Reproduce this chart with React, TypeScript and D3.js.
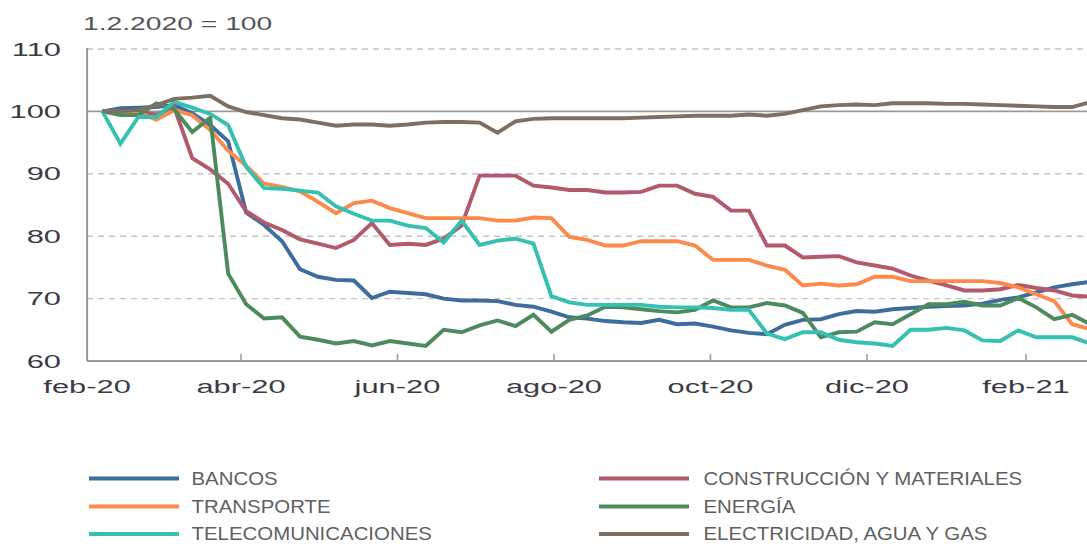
import React from "react";
import * as d3 from "d3";

const dates = [
  "2020-02-07","2020-02-14","2020-02-21","2020-02-28","2020-03-06","2020-03-13","2020-03-20","2020-03-27",
  "2020-04-03","2020-04-10","2020-04-17","2020-04-24","2020-05-01","2020-05-08","2020-05-15","2020-05-22",
  "2020-05-29","2020-06-05","2020-06-12","2020-06-19","2020-06-26","2020-07-03","2020-07-10","2020-07-17",
  "2020-07-24","2020-07-31","2020-08-07","2020-08-14","2020-08-21","2020-08-28","2020-09-04","2020-09-11",
  "2020-09-18","2020-09-25","2020-10-02","2020-10-09","2020-10-16","2020-10-23","2020-10-30","2020-11-06",
  "2020-11-13","2020-11-20","2020-11-27","2020-12-04","2020-12-11","2020-12-18","2020-12-25","2021-01-01",
  "2021-01-08","2021-01-15","2021-01-22","2021-01-29","2021-02-05","2021-02-12","2021-02-19","2021-02-26",
];

const bancos = [100,100.5,100.6,100.7,101.0,99.7,97.8,95.2,83.8,81.8,79.2,74.7,73.5,73.0,72.9,70.1,71.1,70.9,70.7,70.0,69.7,69.7,69.6,69.0,68.7,67.9,67.0,66.8,66.4,66.2,66.1,66.6,65.9,66.0,65.5,64.9,64.5,64.3,65.8,66.6,66.7,67.5,68.0,67.9,68.3,68.5,68.7,68.8,68.9,69.2,69.8,70.2,71.0,71.8,72.3,72.7];
const construccion = [100,100,99.9,99.5,100.6,92.5,90.7,88.4,84.0,82.2,81.0,79.5,78.8,78.1,79.4,82.1,78.6,78.8,78.6,79.6,81.7,89.7,89.7,89.7,88.1,87.8,87.4,87.4,87.0,87.0,87.1,88.1,88.1,86.8,86.3,84.1,84.1,78.5,78.5,76.6,76.7,76.8,75.8,75.3,74.8,73.7,72.9,72.1,71.3,71.3,71.5,72.2,71.7,71.3,70.5,70.3];
const transporte = [100,99.8,99.8,98.7,100.2,99.4,97.0,93.7,91.3,88.4,87.9,87.2,85.5,83.7,85.3,85.7,84.5,83.7,82.9,82.9,82.9,82.9,82.5,82.5,83.0,82.9,79.9,79.4,78.5,78.5,79.2,79.2,79.2,78.5,76.2,76.2,76.2,75.3,74.6,72.1,72.4,72.1,72.3,73.5,73.5,72.8,72.8,72.8,72.8,72.8,72.5,71.8,70.7,69.6,65.9,65.1];
const energia = [100,99.4,99.4,101.3,100.3,96.7,99.0,74.0,69.1,66.8,67.0,63.9,63.4,62.8,63.2,62.5,63.2,62.8,62.4,65.0,64.6,65.7,66.5,65.6,67.4,64.7,66.6,67.3,68.7,68.6,68.3,68.0,67.8,68.2,69.7,68.6,68.6,69.3,68.9,67.7,63.8,64.6,64.7,66.2,65.9,67.5,69.1,69.1,69.5,68.9,68.9,70.1,68.6,66.7,67.4,65.9];
const telecom = [100,94.8,99.1,99.1,101.5,100.6,99.6,97.8,91.1,87.7,87.6,87.3,87.0,84.8,83.6,82.5,82.5,81.7,81.3,79.0,82.5,78.6,79.3,79.6,78.8,70.4,69.4,69.0,69.0,69.0,69.0,68.7,68.6,68.6,68.5,68.2,68.2,64.4,63.5,64.6,64.6,63.4,63.0,62.8,62.4,65.0,65.0,65.3,64.9,63.3,63.2,64.9,63.8,63.8,63.8,62.8];
const electricidad = [100,100.0,100.2,101.0,102.0,102.2,102.5,100.8,99.9,99.4,98.9,98.7,98.2,97.7,97.9,97.9,97.7,97.9,98.2,98.3,98.3,98.2,96.6,98.4,98.8,98.9,98.9,98.9,98.9,98.9,99.0,99.1,99.2,99.3,99.3,99.3,99.5,99.3,99.6,100.2,100.8,101.0,101.1,101.0,101.3,101.3,101.3,101.2,101.2,101.1,101.0,100.9,100.8,100.7,100.7,101.5];

const seriesNames = ["BANCOS","CONSTRUCCIÓN Y MATERIALES","TRANSPORTE","ENERGÍA","TELECOMUNICACIONES","ELECTRICIDAD, AGUA Y GAS"];
const seriesValues = [bancos, construccion, transporte, energia, telecom, electricidad];
const seriesColors = ["#3c6d9d","#b2596b","#fd8a4b","#4c8b5e","#35c0b2","#7f6f62"];

const yTicks = [60, 70, 80, 90, 100, 110];
const xTickDates = ["2020-02-01","2020-04-01","2020-06-01","2020-08-01","2020-10-01","2020-12-01","2021-02-01"];
const xTickLabels = ["feb-20","abr-20","jun-20","ago-20","oct-20","dic-20","feb-21"];
const title = "1.2.2020 = 100";

const W = 1087, H = 544;
const FONT = "'Liberation Sans', Arial, Helvetica, sans-serif";

function SText({ x, y, sx, size, fill, anchor, children }: any) {
  return (
    <g transform={`translate(${x},${y}) scale(${sx},1)`}>
      <text x={0} y={0} fontSize={size} fill={fill} textAnchor={anchor} fontFamily={FONT}>{children}</text>
    </g>
  );
}

export default function App() {
  const parse = d3.timeParse("%Y-%m-%d");
  const x = d3.scaleTime()
    .domain([parse("2020-04-01")!, parse("2021-02-01")!])
    .range([241, 1026]);
  const y = d3.scaleLinear().domain([60, 110]).range([361, 49]);
  const xs = dates.map((d) => x(parse(d)!));
  const x0 = x(parse(xTickDates[0])!);
  const line = d3.line<number>().x((_, i) => xs[i]).y((v) => y(v));

  const legendLeft = [0, 2, 4];
  const legendRight = [1, 3, 5];
  const rowsY = [478.5, 506.5, 534];

  return (
    <div style={{ position: "absolute", left: 0, top: 0 }}>
      <svg width={W} height={H} style={{ display: "block", background: "#fff" }}>
        <SText x={83} y={30} sx={1.52} size={18.6} fill="#555" anchor="start">{title}</SText>

        {yTicks.filter((t) => t !== 60).map((t) => (
          <line key={t} x1={x0} x2={W} y1={y(t)} y2={y(t)}
            stroke={t === 100 ? "#9a9a9a" : "#c4c4c4"}
            strokeWidth={t === 100 ? 1.6 : 1.4}
            strokeDasharray={t === 100 ? undefined : "6,5"} />
        ))}

        {yTicks.map((t) => (
          <SText key={t} x={61} y={y(t) + 6.6} sx={1.66} size={18.6} fill="#3b3b45" anchor="end">{String(t)}</SText>
        ))}

        {seriesValues.map((vals, k) => (
          <path key={k} d={line(vals) || ""} fill="none" stroke={seriesColors[k]} strokeWidth={3.9}
            strokeLinejoin="miter" strokeLinecap="butt" />
        ))}

        <line x1={x0} x2={x0} y1={y(110) - 1} y2={y(60)} stroke="#9a9a9a" strokeWidth={2} />
        <line x1={x0} x2={W} y1={y(60)} y2={y(60)} stroke="#9a9a9a" strokeWidth={2} />
        {xTickDates.map((d, i) => {
          const xx = x(parse(d)!);
          return (
            <g key={d}>
              <line x1={xx} x2={xx} y1={y(60)} y2={y(60) - 7} stroke="#9a9a9a" strokeWidth={1.5} />
              <SText x={xx} y={393} sx={1.66} size={18.6} fill="#3b3b45" anchor="middle">{xTickLabels[i]}</SText>
            </g>
          );
        })}

        {legendLeft.map((k, r) => (
          <g key={k}>
            <line x1={89} x2={179} y1={rowsY[r]} y2={rowsY[r]} stroke={seriesColors[k]} strokeWidth={4} />
            <SText x={191.5} y={rowsY[r] + 6.3} sx={1.11} size={18.4} fill="#5f5f5f" anchor="start">{seriesNames[k]}</SText>
          </g>
        ))}
        {legendRight.map((k, r) => (
          <g key={k}>
            <line x1={599} x2={689} y1={rowsY[r]} y2={rowsY[r]} stroke={seriesColors[k]} strokeWidth={4} />
            <SText x={703.5} y={rowsY[r] + 6.3} sx={1.11} size={18.4} fill="#5f5f5f" anchor="start">{seriesNames[k]}</SText>
          </g>
        ))}
      </svg>
    </div>
  );
}
